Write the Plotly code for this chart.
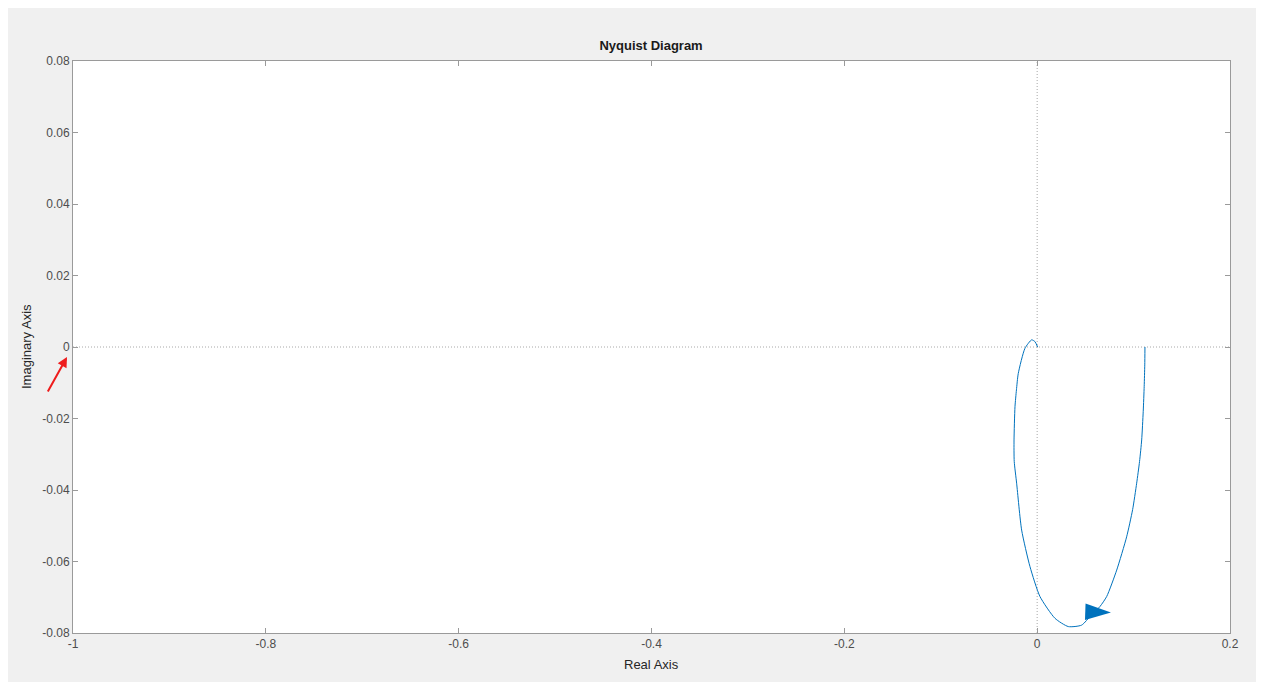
import plotly.graph_objects as go

# Nyquist curve values
re_vals = [0.0005, -0.0023, -0.0057, -0.0127, -0.0196, -0.0215, -0.0230, -0.0240, -0.0238,
           -0.0213, -0.0161, -0.0075, 0.0029, 0.0185, 0.0323, 0.0461, 0.0560, 0.0651,
           0.0721, 0.0825, 0.0928, 0.0990, 0.1032, 0.1062, 0.1084, 0.1100, 0.1110, 0.1116,
           0.1118]
im_vals = [0.0, 0.0015, 0.0020, -0.0004, -0.0074, -0.0120, -0.0167, -0.0260, -0.0320,
           -0.0381, -0.0512, -0.0614, -0.0698, -0.0759, -0.0782, -0.0778, -0.0750, -0.0726,
           -0.0698, -0.0624, -0.0531, -0.0455, -0.0381, -0.0320, -0.0260, -0.0180, -0.0110,
           -0.0050, 0.0]
arrow_re = [0.0765]
arrow_im = [-0.0743]

x_ticks = [-1, -0.8, -0.6, -0.4, -0.2, 0, 0.2]
x_labels = ["-1", "-0.8", "-0.6", "-0.4", "-0.2", "0", "0.2"]
y_ticks = [-0.08, -0.06, -0.04, -0.02, 0, 0.02, 0.04, 0.06, 0.08]
y_labels = ["-0.08", "-0.06", "-0.04", "-0.02", "0", "0.02", "0.04", "0.06", "0.08"]

BLUE = "#0072BD"
FONT = "Liberation Sans, Arial, sans-serif"

fig = go.Figure()
fig.add_trace(go.Scatter(x=re_vals, y=im_vals, mode="lines",
                         line=dict(color=BLUE, width=1, shape="spline", smoothing=0.6),
                         showlegend=False, hoverinfo="skip"))
fig.add_trace(go.Scatter(x=arrow_re, y=arrow_im, mode="markers",
                         marker=dict(symbol="arrow", angle=92, size=27, color=BLUE,
                                     line=dict(width=0)),
                         showlegend=False, hoverinfo="skip"))

axis_common = dict(showgrid=False, zeroline=False, showline=True, linecolor="#9a9a9a",
                   linewidth=1, mirror="ticks", ticks="inside", ticklen=5,
                   tickcolor="#9a9a9a",
                   tickfont=dict(family=FONT, size=12, color="#4d4d4d"))

fig.update_xaxes(range=[-1, 0.2], tickvals=x_ticks, ticktext=x_labels, **axis_common)
fig.update_yaxes(range=[-0.08, 0.08], tickvals=y_ticks, ticktext=y_labels, **axis_common)

shapes = [
    dict(type="line", xref="x", yref="y", x0=-1, x1=0.2, y0=0, y1=0,
         line=dict(color="#a8a8a8", width=1, dash="1px,2px"), layer="below"),
    dict(type="line", xref="x", yref="y", x0=0, x1=0, y0=-0.08, y1=0.08,
         line=dict(color="#a8a8a8", width=1, dash="1px,2px"), layer="below"),
]

annotations = [
    dict(text="Real Axis", xref="paper", yref="paper", x=0.4996, y=(633 - 664) / 572,
         xanchor="center", yanchor="middle", showarrow=False,
         font=dict(family=FONT, size=13, color="#262626")),
    dict(text="Imaginary Axis", xref="paper", yref="paper", x=(26 - 73) / 1157, y=0.5,
         xanchor="center", yanchor="middle", showarrow=False, textangle=-90,
         font=dict(family=FONT, size=13, color="#262626")),
    dict(text="", xref="paper", yref="paper", x=(67 - 73) / 1157, y=(633 - 357) / 572,
         ax=-20, ay=36, showarrow=True, arrowcolor="#ee1c1c", arrowwidth=2,
         arrowhead=2, arrowsize=1),
]

fig.update_layout(
    width=1248, height=674,
    margin=dict(l=65, r=26, t=53, b=49),
    paper_bgcolor="#f0f0f0", plot_bgcolor="white",
    title=dict(text="<b>Nyquist Diagram</b>", x=0.4996, xref="paper", xanchor="center",
               y=1 - 37 / 674, yref="container", yanchor="middle",
               font=dict(family=FONT, size=13, color="#1a1a1a")),
    shapes=shapes, annotations=annotations,
)

fig.write_html("out.html")
